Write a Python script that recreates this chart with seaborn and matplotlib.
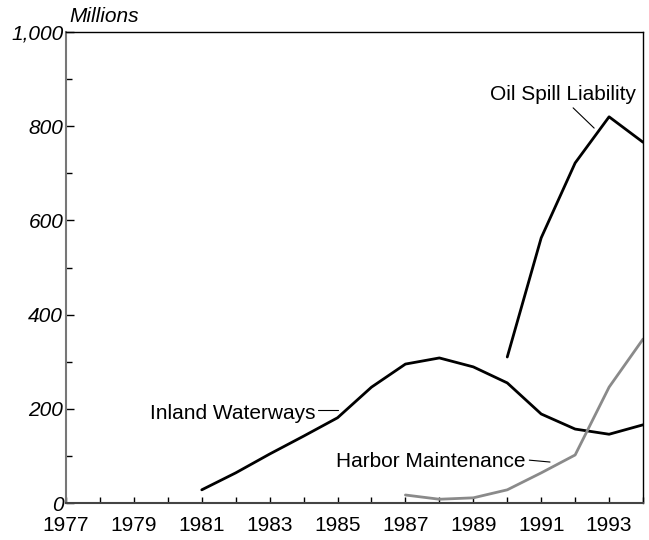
import pandas as pd
import numpy as np
import matplotlib.pyplot as plt
import seaborn as sns
from matplotlib.ticker import MultipleLocator, FuncFormatter

# ------------------------------------------------------------
# DATA (millions of dollars)
# ------------------------------------------------------------
inland_years = [1981, 1982, 1983, 1984, 1985, 1986, 1987, 1988, 1989, 1990, 1991, 1992, 1993, 1994]
inland_vals = [28, 64, 104, 142, 181, 246, 295, 308, 289, 255, 189, 157, 146, 166]

oil_years = [1990, 1991, 1992, 1993, 1994]
oil_vals = [310, 563, 722, 820, 766]

harbor_years = [1987, 1988, 1989, 1990, 1991, 1992, 1993, 1994]
harbor_vals = [17, 8, 11, 28, 64, 102, 246, 348]

year_ticks = list(range(1977, 1995, 2))

df = pd.concat([
    pd.DataFrame({'Year': inland_years, 'Value': inland_vals, 'Fund': 'Inland Waterways'}),
    pd.DataFrame({'Year': oil_years, 'Value': oil_vals, 'Fund': 'Oil Spill Liability'}),
    pd.DataFrame({'Year': harbor_years, 'Value': harbor_vals, 'Fund': 'Harbor Maintenance'}),
])

# ------------------------------------------------------------
# PLOT
# ------------------------------------------------------------
sns.set_style("ticks")
plt.rcParams['font.family'] = ['Liberation Sans', 'DejaVu Sans']
plt.rcParams['text.color'] = 'black'
plt.rcParams['xtick.labelcolor'] = 'black'
plt.rcParams['ytick.labelcolor'] = 'black'
FS = 15

fig = plt.figure(figsize=(6.49, 5.4), dpi=100)
ax = fig.add_axes([0.1017, 0.0685, 0.8891, 0.8722])

palette = {'Inland Waterways': 'black', 'Oil Spill Liability': 'black',
           'Harbor Maintenance': '#8a8a8a'}
sns.lineplot(data=df, x='Year', y='Value', hue='Fund', palette=palette,
             linewidth=2.0, legend=False, ax=ax)

ax.set_xlim(1977, 1994)
ax.set_ylim(0, 1000)
ax.set_xlabel('')
ax.set_ylabel('')

ax.xaxis.set_minor_locator(MultipleLocator(1))
ax.set_xticks(year_ticks)
ax.yaxis.set_major_locator(MultipleLocator(200))
ax.yaxis.set_minor_locator(MultipleLocator(100))
ax.yaxis.set_major_formatter(FuncFormatter(lambda v, p: f"{int(v):,}"))

ax.tick_params(axis='both', which='both', direction='in', colors='black',
               labelcolor='black', width=1)
ax.tick_params(axis='x', which='both', length=4, labelsize=FS, pad=9)
ax.tick_params(axis='y', which='major', length=6, labelsize=FS, pad=2)
ax.tick_params(axis='y', which='minor', length=4)
for lab in ax.get_yticklabels():
    lab.set_fontstyle('italic')

for side in ['top', 'right']:
    ax.spines[side].set_color('black')
    ax.spines[side].set_linewidth(1.0)
ax.spines['left'].set_color('#777777')
ax.spines['left'].set_linewidth(1.5)
ax.spines['bottom'].set_color('#444444')
ax.spines['bottom'].set_linewidth(1.5)

ax.text(0.006, 1.012, 'Millions', transform=ax.transAxes, fontsize=FS,
        fontstyle='italic', ha='left', va='bottom', color='black')

# series labels with short leader lines
ax.text(1984.35, 191, 'Inland Waterways', fontsize=FS, ha='right', va='center', color='black')
ax.plot([1984.41, 1985.0], [197, 197], color='black', lw=0.8)

ax.text(1990.55, 89, 'Harbor Maintenance', fontsize=FS, ha='right', va='center', color='black')
ax.plot([1990.65, 1991.26], [91, 87], color='black', lw=0.8)

ax.text(1993.8, 868, 'Oil Spill Liability', fontsize=FS, ha='right', va='center', color='black')
ax.plot([1991.94, 1992.56], [839, 796], color='black', lw=0.8)

fig.savefig('out.png', dpi=100)
